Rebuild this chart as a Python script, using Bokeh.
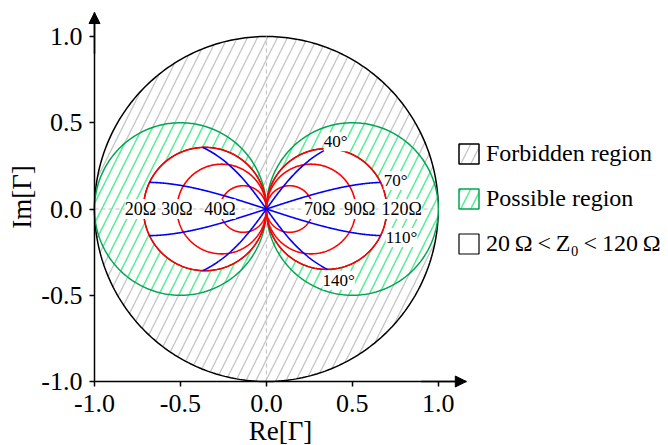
import numpy as np
from bokeh.plotting import figure
from bokeh.models import (Range1d, FixedTicker, PrintfTickFormatter, Arrow, NormalHead,
                          Legend, LegendItem, ColumnDataSource)
from bokeh.core.properties import value
from bokeh.embed import file_html
from bokeh.resources import INLINE

# ---------------- data ----------------
axis_ticks = [-1.0, -0.5, 0.0, 0.5, 1.0]
z0_names = ["20Ω", "30Ω", "40Ω", "70Ω", "90Ω", "120Ω"]
z0_gamma = [-0.715, -0.52, -0.27, 0.27, 0.52, 0.70]      # real-axis crossing of each Z0 circle
theta_names = ["40°", "70°", "110°", "140°"]
theta_drawn_deg = [36.0, 72.0, 108.0, 144.0]               # electrical length of each blue curve as drawn
forbidden_radius = 1.0                                     # |Γ| = 1 boundary
possible_gamma = [-1.0, 1.0]                               # limits Z0 -> 0 and Z0 -> infinity
legend_names = ["Forbidden region", "Possible region",
                "20\u2009Ω\u2009<\u2009Z\u2080\u2009<\u2009120\u2009Ω"]
axis_titles = ["Re[Γ]", "Im[Γ]"]

# ---------------- styling / layout constants ----------------
FONT = "Liberation Serif"
GRAY_HATCH = "#c4c4c4"
GREEN_LINE = "#00a651"
GREEN_HATCH = "#55ee95"
z0_label_dx = [-3, 0, 0, 7, 4, 15]
theta_label_dx = [8, 15, 21, 11]
theta_label_dy = [-7, -2, 2, 11]
axis_origin = -1.0
x_arrow_tip = 1.163
y_arrow_tip = 1.139

phi = np.linspace(0.0, 2.0 * np.pi, 361)


def circle_through_origin(g):
    c, r = g / 2.0, abs(g) / 2.0
    return list(c + r * np.cos(phi)), list(r * np.sin(phi))


p = figure(width=668, height=445,
           x_range=Range1d(-1.5468, 2.3392), y_range=Range1d(-1.3710, 1.2088),
           output_backend="svg", toolbar_location=None, title=None,
           min_border_left=0, min_border_right=0, min_border_top=0, min_border_bottom=0)
p.xgrid.visible = False
p.ygrid.visible = False
p.outline_line_color = None
p.background_fill_color = "white"
p.border_fill_color = "white"

# forbidden region: unit circle
ux = list(forbidden_radius * np.cos(phi))
uy = list(forbidden_radius * np.sin(phi))
r_forbid = p.patch(ux, uy, fill_color="white", hatch_pattern="/", hatch_color=GRAY_HATCH,
                   hatch_scale=20, hatch_weight=1.3, line_color="black", line_width=1.5)

# possible region: limit circles
pxs, pys = zip(*[circle_through_origin(g) for g in possible_gamma])
r_poss = p.patches(list(pxs), list(pys), fill_color="white", hatch_pattern="/",
                   hatch_color=GREEN_HATCH, hatch_scale=20, hatch_weight=1.5,
                   line_color=GREEN_LINE, line_width=1.5)

# 20 Ω < Z0 < 120 Ω region (white); its outline is covered by the red circles
wxs, wys = zip(*[circle_through_origin(g) for g in (z0_gamma[0], z0_gamma[-1])])
r_key = p.patches(list(wxs), list(wys), fill_color="white", line_color="black", line_width=1.2)

# dashed axes through the origin
p.multi_line([[-forbidden_radius, forbidden_radius], [0.0, 0.0]],
             [[0.0, 0.0], [-forbidden_radius, forbidden_radius]],
             line_color="#bdbdbd", line_width=1.0, line_dash="4 3")

# red constant-Z0 circles
rxs, rys = zip(*[circle_through_origin(g) for g in z0_gamma])
p.multi_line(list(rxs), list(rys), line_color="red", line_width=1.6)

# blue constant-length curves
gg = np.linspace(z0_gamma[0], z0_gamma[-1], 501)
aa = np.sqrt(1.0 - gg ** 2)
bxs, bys, ends = [], [], []
for th in theta_drawn_deg:
    t = np.tan(np.radians(th))
    G = gg * (1j * t) / (aa + 1j * t)
    bxs.append(list(G.real))
    bys.append(list(G.imag))
    ends.append((G.real[-1], G.imag[-1]))
p.multi_line(bxs, bys, line_color="blue", line_width=1.6)

# labels
lab = ColumnDataSource(dict(
    x=list(z0_gamma) + [e[0] for e in ends],
    y=[0.0] * len(z0_gamma) + [e[1] for e in ends],
    text=z0_names + theta_names,
    dx=z0_label_dx + theta_label_dx,
    dy=[0] * len(z0_gamma) + theta_label_dy,
    size=["18px"] * len(z0_gamma) + ["17px"] * len(theta_names),
))
p.text(x="x", y="y", text="text", source=lab, x_offset="dx", y_offset="dy",
       text_font=value(FONT), text_font_size="size", text_color="black",
       text_align="center", text_baseline="middle",
       background_fill_color="white")

# axes (crossing at (-1, -1))
for ax in (p.xaxis[0], p.yaxis[0]):
    ax.fixed_location = axis_origin
    ax.ticker = FixedTicker(ticks=axis_ticks)
    ax.formatter = PrintfTickFormatter(format="%.1f")
    ax.axis_line_width = 1.5
    ax.axis_line_color = "black"
    ax.major_tick_line_width = 1.5
    ax.major_tick_line_color = "black"
    ax.major_tick_in = 0
    ax.major_tick_out = 5
    ax.minor_tick_line_color = None
    ax.major_label_text_font = FONT
    ax.major_label_text_font_size = "26px"
    ax.major_label_text_color = "black"
    ax.axis_label_text_font = FONT
    ax.axis_label_text_font_size = "27px"
    ax.axis_label_text_font_style = "normal"
    ax.axis_label_text_color = "black"
p.xaxis.axis_label = axis_titles[0]
p.yaxis.axis_label = axis_titles[1]
p.xaxis.major_label_standoff = 8
p.yaxis.major_label_standoff = 7
p.xaxis.axis_label_standoff = 1
p.yaxis.axis_label_standoff = 1
p.xaxis.bounds = (axis_origin, x_arrow_tip)
p.yaxis.bounds = (axis_origin, y_arrow_tip)

p.add_layout(Arrow(end=NormalHead(size=11, fill_color="black", line_color="black", line_width=1),
                   x_start=0.9, y_start=axis_origin, x_end=x_arrow_tip, y_end=axis_origin,
                   line_color="black", line_width=1.5))
p.add_layout(Arrow(end=NormalHead(size=11, fill_color="black", line_color="black", line_width=1),
                   x_start=axis_origin, y_start=0.9, x_end=axis_origin, y_end=y_arrow_tip,
                   line_color="black", line_width=1.5))

legend = Legend(items=[LegendItem(label=legend_names[0], renderers=[r_forbid]),
                       LegendItem(label=legend_names[1], renderers=[r_poss]),
                       LegendItem(label=legend_names[2], renderers=[r_key])],
                location=(456, 188), orientation="vertical",
                glyph_width=25, glyph_height=25, label_standoff=5, spacing=18,
                padding=0, margin=0, border_line_color=None, background_fill_alpha=0,
                label_text_font=FONT, label_text_font_size="24px", label_text_color="black")
p.add_layout(legend)

open("out.html", "w", encoding="utf-8").write(file_html(p, INLINE))
